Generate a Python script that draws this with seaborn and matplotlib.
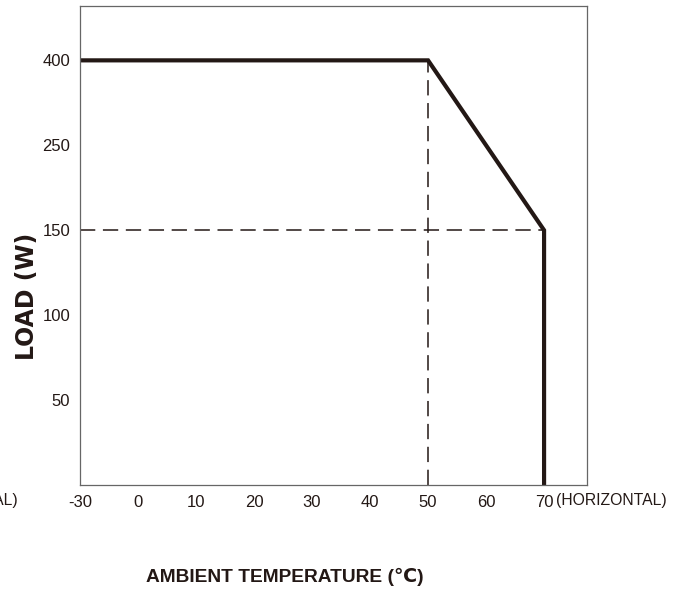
import numpy as np
import pandas as pd
import matplotlib
matplotlib.use("Agg")
import matplotlib.pyplot as plt
import seaborn as sns

# axis tick labels (drawn evenly spaced, as on the datasheet)
temp_ticks = [-30, 0, 10, 20, 30, 40, 50, 60, 70]
load_ticks = [50, 100, 150, 250, 400]

# derating curve
curve_temp = [-30, 50, 70, 70]
curve_load = [400, 400, 150, 0]

# reference (dashed) lines
knee_temp = 50
knee_load = 400
cutoff_temp = 70
cutoff_load = 150


def xpos(t):
    return np.interp(t, temp_ticks, np.arange(len(temp_ticks)))


def ypos(w):
    return np.interp(w, [0] + load_ticks, np.arange(len(load_ticks) + 1))


sns.set_style("white")
plt.rcParams["font.family"] = ["Liberation Sans", "DejaVu Sans"]

fig = plt.figure(figsize=(6.77, 5.91), dpi=100)
ax = fig.add_axes([80 / 677, 106 / 591, 507 / 677, 479 / 591])

df = pd.DataFrame({"x": xpos(curve_temp), "y": ypos(curve_load)})
sns.lineplot(data=df, x="x", y="y", sort=False, estimator=None,
             color="#231815", linewidth=3.0, ax=ax,
             solid_joinstyle="miter", solid_capstyle="butt")

dash_kw = dict(color="#231815", linewidth=1.1, dashes=(10, 5))
ax.plot([xpos(knee_temp)] * 2, [0, ypos(knee_load)], **dash_kw)
ax.plot([0, xpos(cutoff_temp)], [ypos(cutoff_load)] * 2, **dash_kw)

ax.set_xlim(0, 8.74)
ax.set_ylim(0, 5.64)
ax.set_xticks(np.arange(len(temp_ticks)))
ax.set_xticklabels([str(t) for t in temp_ticks])
ax.set_yticks(np.arange(1, len(load_ticks) + 1))
ax.set_yticklabels([str(w) for w in load_ticks])
ax.tick_params(axis="both", direction="in", length=5, width=0.8,
               color="#555555", labelsize=12, labelcolor="#231815", pad=7)
ax.set_xlabel("")
ax.set_ylabel("")
for s in ax.spines.values():
    s.set_visible(True)
    s.set_color("#666666")
    s.set_linewidth(0.9)

fig.text(556 / 677, 1 - 500 / 591, "(HORIZONTAL)", fontsize=11.3,
         color="#231815", ha="left", va="center")
fig.text(18 / 677, 1 - 500 / 591, "(HORIZONTAL)", fontsize=11.3,
         color="#231815", ha="right", va="center")

fig.text(285 / 677, 1 - 577 / 591, "AMBIENT TEMPERATURE (\u2103)", fontsize=13.8,
         fontweight="bold", color="#231815", ha="center", va="center",
         family=["Liberation Sans", "DejaVu Sans"])
fig.text(27 / 677, 1 - 296 / 591, "LOAD (W)", fontsize=17, rotation=90,
         fontweight="bold", color="#231815", ha="center", va="center",
         family=["DejaVu Sans"])

fig.savefig("out.png", dpi=100)
